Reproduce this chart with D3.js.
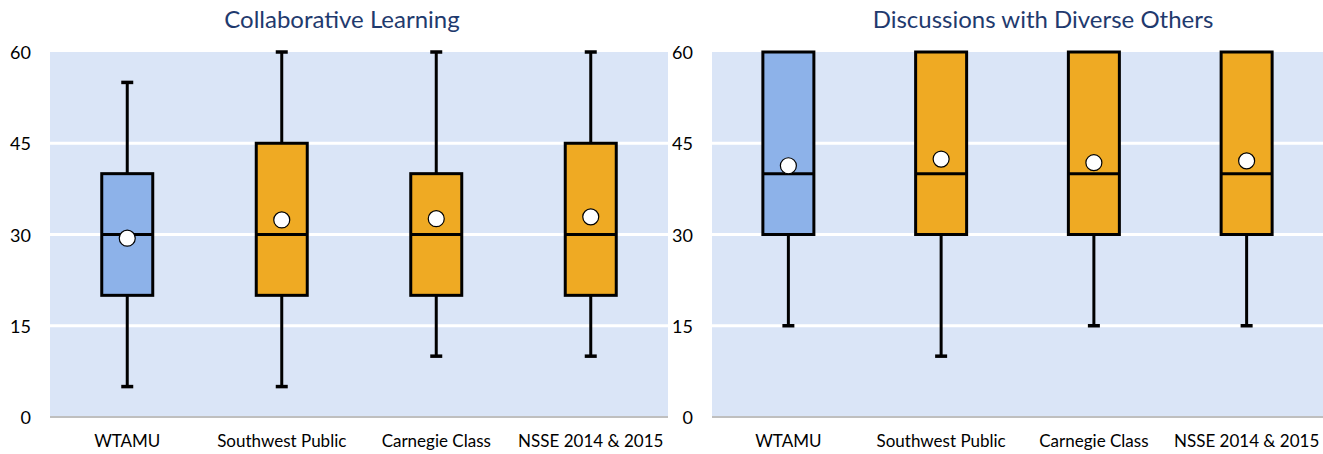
<!DOCTYPE html>
<html>
<head>
<meta charset="utf-8">
<script src="https://cdn.jsdelivr.net/npm/d3@7"></script>
<style>
  html, body { margin: 0; padding: 0; background: #fff; }
  svg { display: block; }
  text { font-family: Lato, "Open Sans", sans-serif; }
</style>
</head>
<body>
<svg id="chart" width="1323" height="454"></svg>
<script>
// Categories shared by both panels
const categories = ["WTAMU", "Southwest Public", "Carnegie Class", "NSSE 2014 & 2015"];
const yTicks = [0, 15, 30, 45, 60];

// Collaborative Learning: [low whisker, Q1, median, Q3, high whisker]
const collabLow    = [5, 5, 10, 10];
const collabQ1     = [20, 20, 20, 20];
const collabMedian = [30, 30, 30, 30];
const collabQ3     = [40, 45, 40, 45];
const collabHigh   = [55, 60, 60, 60];
const collabMean   = [29.4, 32.4, 32.6, 32.9];

// Discussions with Diverse Others
const diverseLow    = [15, 10, 15, 15];
const diverseQ1     = [30, 30, 30, 30];
const diverseMedian = [40, 40, 40, 40];
const diverseQ3     = [60, 60, 60, 60];
const diverseHigh   = [60, 60, 60, 60];
const diverseMean   = [41.3, 42.4, 41.8, 42.1];

const panels = [
  { title: "Collaborative Learning", low: collabLow, q1: collabQ1, med: collabMedian,
    q3: collabQ3, high: collabHigh, mean: collabMean, x0: 50, x1: 668, titleX: 342 },
  { title: "Discussions with Diverse Others", low: diverseLow, q1: diverseQ1, med: diverseMedian,
    q3: diverseQ3, high: diverseHigh, mean: diverseMean, x0: 712, x1: 1323, titleX: 1043 }
];

const svg = d3.select("#chart");
const plotTop = 52, plotBottom = 417;
const y = d3.scaleLinear().domain([0, 60]).range([plotBottom, plotTop]);

const colors = { first: "#8db2e9", rest: "#efaa23" };

panels.forEach(p => {
  const g = svg.append("g");
  const x = d3.scaleBand().domain(categories).range([p.x0, p.x1]).padding(0);
  const boxW = 51;

  // plot background
  g.append("rect")
    .attr("x", p.x0).attr("y", plotTop)
    .attr("width", p.x1 - p.x0).attr("height", plotBottom - plotTop)
    .attr("fill", "#dae5f7");

  // gridlines
  g.selectAll(".grid").data(yTicks.filter(t => t > 0 && t < 60)).join("line")
    .attr("x1", p.x0).attr("x2", p.x1)
    .attr("y1", d => y(d)).attr("y2", d => y(d))
    .attr("stroke", "#ffffff").attr("stroke-width", 3);

  // baseline
  g.append("line")
    .attr("x1", p.x0).attr("x2", p.x1)
    .attr("y1", y(0)).attr("y2", y(0))
    .attr("stroke", "#bfbfbf").attr("stroke-width", 2);

  // y tick labels
  g.selectAll(".ytick").data(yTicks).join("text")
    .attr("x", p.x0 - 19).attr("y", d => y(d))
    .attr("dy", "0.4em")
    .attr("text-anchor", "end")
    .attr("font-size", 18)
    .attr("fill", "#000")
    .text(d => d);

  // x category labels
  g.selectAll(".xlab").data(categories).join("text")
    .attr("x", d => x(d) + x.bandwidth() / 2)
    .attr("y", 447)
    .attr("text-anchor", "middle")
    .attr("font-size", 17)
    .attr("fill", "#000")
    .text(d => d);

  // title
  g.append("text")
    .attr("x", p.titleX)
    .attr("y", 28)
    .attr("text-anchor", "middle")
    .attr("font-size", 24)
    .attr("fill", "#1f3a6e")
    .text(p.title);

  categories.forEach((c, i) => {
    const cx = x(c) + x.bandwidth() / 2;
    const bg = g.append("g");
    // whisker stems
    bg.append("line")
      .attr("x1", cx).attr("x2", cx)
      .attr("y1", y(p.high[i])).attr("y2", y(p.q3[i]))
      .attr("stroke", "#000").attr("stroke-width", 3);
    bg.append("line")
      .attr("x1", cx).attr("x2", cx)
      .attr("y1", y(p.q1[i])).attr("y2", y(p.low[i]))
      .attr("stroke", "#000").attr("stroke-width", 3);
    // caps
    [p.high[i], p.low[i]].forEach(v => {
      if (v !== p.q3[i] && v !== p.q1[i]) {
        bg.append("line")
          .attr("x1", cx - 6).attr("x2", cx + 6)
          .attr("y1", y(v)).attr("y2", y(v))
          .attr("stroke", "#000").attr("stroke-width", 3.5);
      }
    });
    // box
    bg.append("rect")
      .attr("x", cx - boxW / 2).attr("y", y(p.q3[i]))
      .attr("width", boxW).attr("height", y(p.q1[i]) - y(p.q3[i]))
      .attr("fill", i === 0 ? colors.first : colors.rest)
      .attr("stroke", "#000").attr("stroke-width", 3);
    // median
    bg.append("line")
      .attr("x1", cx - boxW / 2).attr("x2", cx + boxW / 2)
      .attr("y1", y(p.med[i])).attr("y2", y(p.med[i]))
      .attr("stroke", "#000").attr("stroke-width", 3);
    // mean marker
    bg.append("circle")
      .attr("cx", cx).attr("cy", y(p.mean[i]))
      .attr("r", 8)
      .attr("fill", "#fff")
      .attr("stroke", "#000").attr("stroke-width", 1.2);
  });
});
</script>
</body>
</html>
